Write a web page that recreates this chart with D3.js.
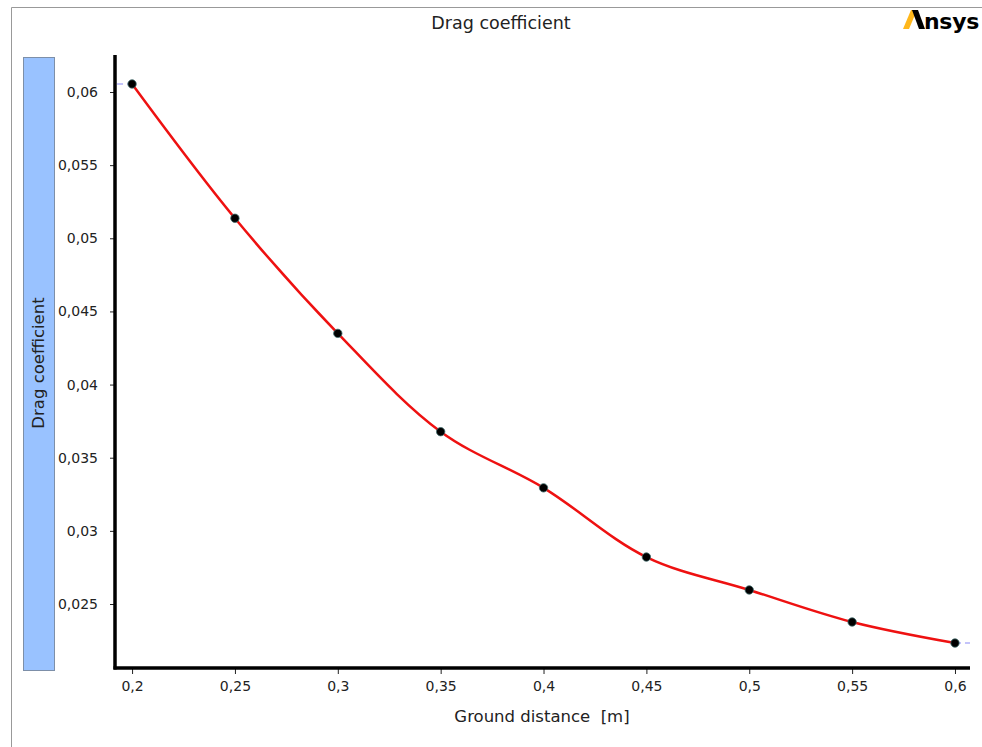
<!DOCTYPE html>
<html>
<head>
<meta charset="utf-8">
<script src="https://cdn.jsdelivr.net/npm/d3@7"></script>
<style>
  body { margin: 0; background: #fff; overflow: hidden; }
  text { font-family: "DejaVu Sans", sans-serif; fill: #222; white-space: pre; }
</style>
</head>
<body>
<svg width="982" height="747"></svg>
<script>
// chart data
var distances = [0.2, 0.25, 0.3, 0.35, 0.4, 0.45, 0.5, 0.55, 0.6];
var dragValues = [0.06055, 0.05137, 0.0435, 0.03678, 0.03294, 0.02821, 0.02596, 0.02377, 0.02233];
var xTicks = [0.2, 0.25, 0.3, 0.35, 0.4, 0.45, 0.5, 0.55, 0.6];
var yTicks = [0.025, 0.03, 0.035, 0.04, 0.045, 0.05, 0.055, 0.06];

var svg = d3.select('svg');

var fmt = function(d) { return String(d).replace('.', ','); };

// frame
svg.append('path')
    .attr('d', 'M11.5,747 L11.5,7.5 L982,7.5')
    .attr('fill', 'none')
    .attr('stroke', '#999')
    .attr('stroke-width', 1);

// title
svg.append('text')
    .attr('x', 501)
    .attr('y', 29)
    .attr('text-anchor', 'middle')
    .style('font-size', '17.5px')
    .text('Drag coefficient');

// logo
var logo = svg.append('g');
logo.append('polygon')
    .attr('points', '903,29 909,29 917,10 911,10')
    .attr('fill', '#ffb71b');
logo.append('polygon')
    .attr('points', '912,10 918,10 925,29 919,29')
    .attr('fill', '#000');
logo.append('text')
    .attr('x', 924)
    .attr('y', 29)
    .style('font-size', '22px')
    .style('font-weight', 'bold')
    .style('fill', '#000')
    .style('letter-spacing', '-0.3px')
    .text('nsys');

var plot = {l: 115, r: 970, t: 55, b: 668};

var xScale = d3.scaleLinear()
    .domain([0.1917, 0.6073])
    .range([plot.l, plot.r]);

var yScale = d3.scaleLinear()
    .domain([0.020625, 0.06253])
    .range([plot.b, plot.t]);

// y label box
svg.append('rect')
    .attr('x', 23.5)
    .attr('y', 57.5)
    .attr('width', 31)
    .attr('height', 613)
    .attr('fill', '#99c2ff')
    .attr('stroke', '#7d8fa8');

svg.append('text')
    .attr('transform', 'translate(44,363) rotate(-90)')
    .attr('text-anchor', 'middle')
    .style('font-size', '16.5px')
    .text('Drag coefficient');

// axes
var yAxis = svg.append('g')
    .attr('transform', 'translate(' + plot.l + ',0)')
    .call(d3.axisLeft(yScale).tickValues(yTicks).tickFormat(fmt).tickSize(5).tickSizeOuter(0));

var xAxis = svg.append('g')
    .attr('transform', 'translate(0,' + plot.b + ')')
    .call(d3.axisBottom(xScale).tickValues(xTicks).tickFormat(fmt).tickSize(5).tickSizeOuter(0));

[yAxis, xAxis].forEach(function(ax) {
    ax.select('.domain').remove();
    ax.selectAll('text')
        .style('font-family', '"DejaVu Sans", sans-serif')
        .style('font-size', '14px')
        .attr('fill', '#222');
    ax.selectAll('line').attr('stroke', '#222');
});
yAxis.selectAll('text').attr('x', -17);
xAxis.selectAll('.tick line').attr('y2', 6);
xAxis.selectAll('text').attr('y', 13);

svg.append('line')
    .attr('x1', plot.l).attr('x2', plot.l)
    .attr('y1', plot.t).attr('y2', plot.b + 1.5)
    .attr('stroke', '#000').attr('stroke-width', 3.5);
svg.append('line')
    .attr('x1', plot.l - 1.5).attr('x2', plot.r)
    .attr('y1', plot.b).attr('y2', plot.b)
    .attr('stroke', '#000').attr('stroke-width', 3.5);

svg.append('text')
    .attr('x', 542)
    .attr('y', 722)
    .attr('text-anchor', 'middle')
    .style('font-size', '16.5px')
    .text('Ground distance  [m]');

var points = distances.map(function(d, i) { return [d, dragValues[i]]; });

// faint extension beyond data range
var ext = [
    [[xScale.domain()[0] + 0.001, dragValues[0]], [distances[0], dragValues[0]]],
    [[distances[8], dragValues[8]], [xScale.domain()[1], dragValues[8]]]
];
svg.selectAll('.ext')
    .data(ext)
    .enter().append('line')
    .attr('class', 'ext')
    .attr('x1', function(d) { return xScale(d[0][0]); })
    .attr('y1', function(d) { return yScale(d[0][1]); })
    .attr('x2', function(d) { return xScale(d[1][0]); })
    .attr('y2', function(d) { return yScale(d[1][1]); })
    .attr('stroke', '#c4c4fa')
    .attr('stroke-width', 2)
    .attr('stroke-dasharray', '6,4');

var line = d3.line()
    .x(function(d) { return xScale(d[0]); })
    .y(function(d) { return yScale(d[1]); })
    .curve(d3.curveCatmullRom.alpha(0.5));

svg.append('path')
    .datum(points)
    .attr('d', line)
    .attr('fill', 'none')
    .attr('stroke', '#ee1111')
    .attr('stroke-width', 2.5);

svg.selectAll('.pt')
    .data(points)
    .enter().append('circle')
    .attr('class', 'pt')
    .attr('cx', function(d) { return xScale(d[0]); })
    .attr('cy', function(d) { return yScale(d[1]); })
    .attr('r', 4.2)
    .attr('fill', '#000')
    .attr('stroke', '#3d6b6b')
    .attr('stroke-width', 0.8);
</script>
</body>
</html>
